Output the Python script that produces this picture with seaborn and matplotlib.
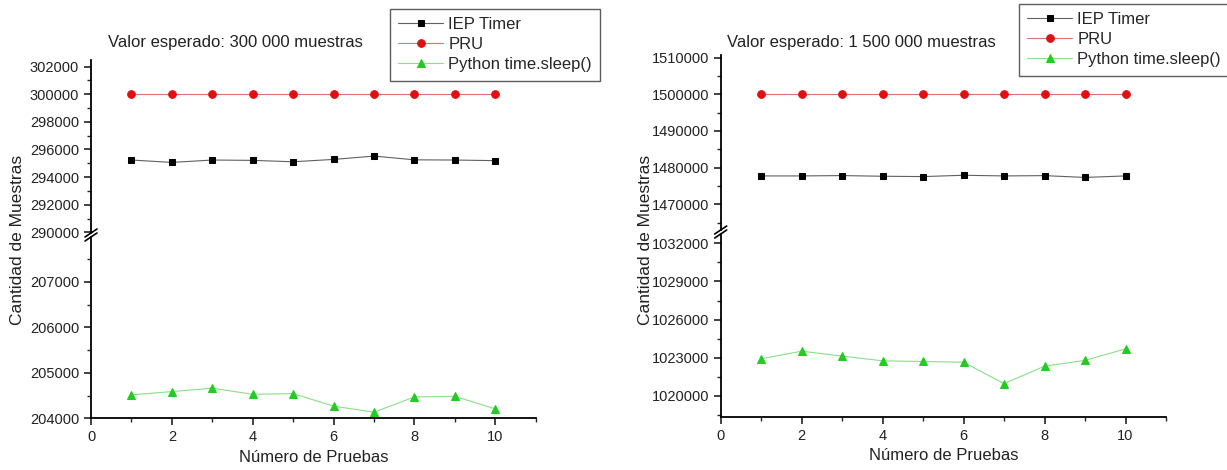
import numpy as np
import pandas as pd
import matplotlib
matplotlib.use("Agg")
import matplotlib.pyplot as plt
import seaborn as sns
from matplotlib.ticker import MultipleLocator, ScalarFormatter

# datos
pruebas = [1, 2, 3, 4, 5, 6, 7, 8, 9, 10]
series = ["IEP Timer", "PRU", "Python time.sleep()"]

iep_300k = [295235, 295062, 295235, 295210, 295110, 295280, 295520, 295250, 295235, 295190]
pru_300k = [300000, 300000, 300000, 300000, 300000, 300000, 300000, 300000, 300000, 300000]
sleep_300k = [204515, 204588, 204662, 204528, 204543, 204268, 204134, 204470, 204483, 204208]

iep_1500k = [1477740, 1477740, 1477830, 1477650, 1477560, 1477920, 1477740, 1477820, 1477330, 1477740]
pru_1500k = [1500000, 1500000, 1500000, 1500000, 1500000, 1500000, 1500000, 1500000, 1500000, 1500000]
sleep_1500k = [1022920, 1023520, 1023130, 1022760, 1022710, 1022650, 1020970, 1022340, 1022800, 1023700]

titles = ["Valor esperado: 300 000 muestras", "Valor esperado: 1 500 000 muestras"]

# estilo de cada serie: color de linea, marcador, color de marcador, tamano
estilos = {
    "IEP Timer": ("#606060", "s", "black", 5),
    "PRU": ("#e07070", "o", "#dd1111", 5.5),
    "Python time.sleep()": ("#88e088", "^", "#22cc22", 6),
}

sns.set_style("ticks")
plt.rcParams["font.family"] = ["Liberation Sans", "DejaVu Sans"]
plt.rcParams["font.size"] = 11

W, H = 1227, 470
fig = plt.figure(figsize=(W / 100, H / 100), dpi=100)


def pos(x0, x1, ytop, ybot):
    return [x0 / W, 1 - ybot / H, (x1 - x0) / W, (ybot - ytop) / H]


def make_df(iep, pru, sleep):
    return pd.DataFrame({
        "Prueba": pruebas * 3,
        "Muestras": iep + pru + sleep,
        "Serie": [series[0]] * 10 + [series[1]] * 10 + [series[2]] * 10,
    })


paneles = [
    dict(df=make_df(iep_300k, pru_300k, sleep_300k), x0=91, x1=535.7,
         up=(60, 233), low=(237, 418.3),
         uplim=(289950, 302480), lowlim=(204000, 207990),
         upmaj=2000, lowmaj=1000, tx=108, lx=18),
    dict(df=make_df(iep_1500k, pru_1500k, sleep_1500k), x0=720.7, x1=1166,
         up=(55, 230), low=(234, 416.7),
         uplim=(1463000, 1510700), lowlim=(1018370, 1032730),
         upmaj=10000, lowmaj=3000, tx=727, lx=645),
]

for i, p in enumerate(paneles):
    ax_up = fig.add_axes(pos(p["x0"], p["x1"], p["up"][0], p["up"][1]))
    ax_low = fig.add_axes(pos(p["x0"], p["x1"], p["low"][0], p["low"][1]))

    for ax in (ax_up, ax_low):
        for name in series:
            lc, mk, mc, ms = estilos[name]
            sns.lineplot(data=p["df"][p["df"]["Serie"] == name], x="Prueba", y="Muestras",
                         ax=ax, color=lc, marker=mk, markersize=ms, markerfacecolor=mc,
                         markeredgecolor=mc, linewidth=0.8, errorbar=None, legend=False)
        ax.set_xlim(0, 11)
        ax.set_ylabel("")
        ax.spines["top"].set_visible(False)
        ax.spines["right"].set_visible(False)
        for s in ("left", "bottom"):
            ax.spines[s].set_linewidth(1.3)
            ax.spines[s].set_color("black")
        ax.tick_params(which="major", direction="out", length=5, width=1.2, labelsize=10.5,
                       colors="#222222")
        ax.tick_params(which="minor", direction="out", length=3, width=1)
        ax.xaxis.set_major_locator(MultipleLocator(2))
        ax.xaxis.set_minor_locator(MultipleLocator(1))
        fmt = ScalarFormatter(useOffset=False)
        fmt.set_scientific(False)
        ax.yaxis.set_major_formatter(fmt)

    ax_up.set_ylim(*p["uplim"])
    ax_up.yaxis.set_major_locator(MultipleLocator(p["upmaj"]))
    ax_up.yaxis.set_minor_locator(MultipleLocator(p["upmaj"] / 2))
    ax_up.spines["bottom"].set_visible(False)
    ax_up.tick_params(axis="x", which="both", bottom=False, labelbottom=False)
    ax_up.set_xlabel("")

    ax_low.set_ylim(*p["lowlim"])
    ax_low.yaxis.set_major_locator(MultipleLocator(p["lowmaj"]))
    ax_low.yaxis.set_minor_locator(MultipleLocator(p["lowmaj"] / 2))
    ax_low.set_xlabel("Número de Pruebas", fontsize=12, labelpad=4, color="#222222")

    # marcas de corte en el eje y
    for ax, h in ((ax_up, p["up"][1] - p["up"][0]), (ax_low, p["low"][1] - p["low"][0])):
        dx = 6 / (p["x1"] - p["x0"])
        dy = 4 / h
        yb = 0 if ax is ax_up else 1
        ax.plot([-dx, dx], [yb - dy, yb + dy], transform=ax.transAxes, color="black",
                lw=1.2, clip_on=False)

    fig.text(p["tx"] / W, 1 - 42 / H, titles[i], fontsize=12, va="center", ha="left",
             color="#222222")
    fig.text(p["lx"] / W, 1 - 240 / H, "Cantidad de Muestras", rotation=90, fontsize=12.5,
             va="center", ha="center", color="#222222")

    handles = ax_up.lines[:3]
    anchor = (390 / W, 1 - 9 / H) if i == 0 else (1019 / W, 1 - 4 / H)
    leg = fig.legend(handles, series, loc="upper left", bbox_to_anchor=anchor,
                     frameon=True, fancybox=False, borderaxespad=0, fontsize=12,
                     handlelength=2.7, handletextpad=0.3, labelspacing=0.3,
                     borderpad=0.5)
    leg.get_frame().set_edgecolor("#333333")
    leg.get_frame().set_linewidth(1)

fig.savefig("out.png", dpi=100)
